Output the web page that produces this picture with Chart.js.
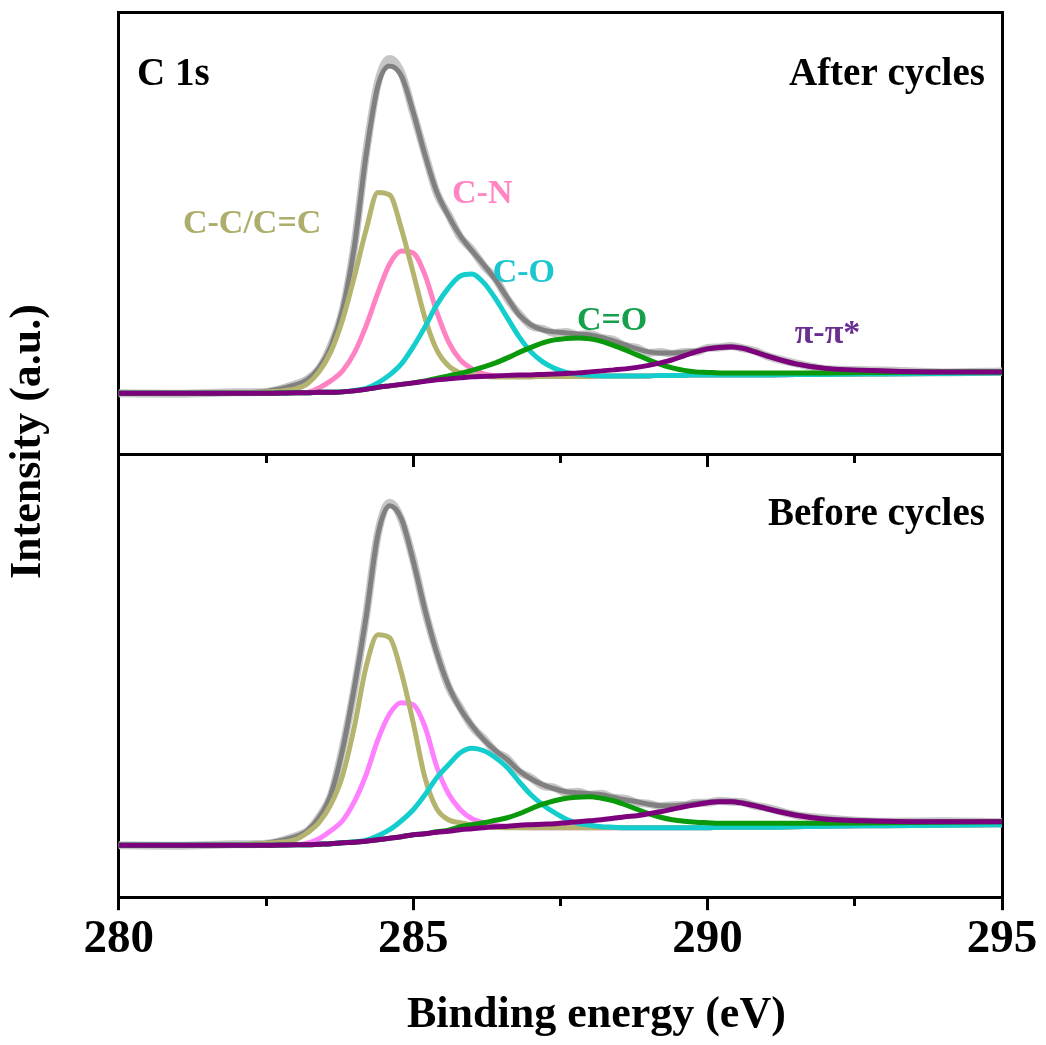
<!DOCTYPE html>
<html>
<head>
<meta charset="utf-8">
<title>C 1s XPS spectra before and after cycling</title>
<script src="https://cdn.jsdelivr.net/npm/chart.js@4.4.1/dist/chart.umd.min.js"></script>
<style>
  html, body { margin: 0; padding: 0; background: #ffffff; }
  canvas { display: block; }
</style>
</head>
<body>
<canvas id="xps" width="1046" height="1045"></canvas>
<script>
// Binding-energy grid (eV) shared by every curve
const energy = [280, 281, 282, 282.5,
  283.0, 283.2, 283.4, 283.6, 283.8, 284.0, 284.2, 284.4, 284.6, 284.8,
  285.0, 285.2, 285.4, 285.6, 285.8, 286.0, 286.2, 286.4, 286.6, 286.8,
  287.0, 287.2, 287.4, 287.6, 287.8, 288.0, 288.2, 288.4, 288.6, 288.8,
  289.0, 289.2, 289.4, 289.6, 289.8, 290.0, 290.2, 290.4, 290.6, 290.8,
  291.0, 291.5, 292, 293, 294, 295];

// ---- After cycles (intensity, a.u.) ----
const afterRaw = [61.5, 61, 62.5, 63, 70.5, 75.5, 86, 109, 144, 209,
  302, 372, 396, 382, 342, 301, 262, 240, 218, 205,
  189, 176, 156, 141, 129, 126, 122, 123, 120, 121,
  117, 115, 109, 107, 102, 103, 101, 103, 103, 107,
  107.5, 109, 106.5, 104, 99, 91.5, 86, 84.5, 82.5, 83.5];
const afterEnvelope = [61.5, 61.5, 62, 63.5, 70, 75, 87, 108, 145, 208,
  300, 369, 389, 379, 343, 300, 263, 239, 219, 204,
  190, 175, 157, 140, 130, 125, 123, 122, 121, 120,
  117.5, 114, 110, 106, 103, 102, 102, 102.5, 104, 106.5,
  108, 108.5, 107, 103.5, 99.5, 91, 86.5, 84, 83, 83];
const afterCC = [61.5, 61.5, 62, 63, 66, 71, 83, 103, 135, 178,
  225, 262.5, 260, 226, 182, 137, 105, 89, 82, 79.5,
  78.5, 78, 78, 78, 78, 78.5, 78.5, 78.5, 78.5, 78.5,
  79, 79, 79, 79, 79, 79.5, 79.5, 79.5, 80, 80,
  80, 80, 80, 80, 80, 80.5, 80.5, 81, 81.5, 82];
const afterCN = [61.5, 61.5, 61.5, 61.5, 62, 62.5, 67, 74, 84, 102,
  129, 162, 191, 204, 202, 180, 143, 113, 95, 86,
  81, 79, 78.5, 78.5, 78.5, 78.5, 78.5, 78.5, 78.5, 78.5,
  79, 79, 79, 79, 79, 79.5, 79.5, 79.5, 80, 80,
  80, 80, 80, 80, 80, 80.5, 80.5, 81, 81.5, 82];
const afterCO = [61.5, 61.5, 61.5, 61.5, 62, 62, 62.5, 62.5, 63, 64.5,
  66.5, 72, 80, 91, 108, 128, 150, 167, 179, 181,
  172, 156, 137, 118, 103, 93, 86.5, 82.5, 80.5, 79.5,
  79, 79, 79, 79, 79, 79.5, 79.5, 79.5, 80, 80,
  80, 80, 80, 80, 80, 80.5, 80.5, 81, 81.5, 82];
const afterCdO = [61.5, 61.5, 61.5, 61.5, 62, 62, 62.5, 62.5, 63, 64,
  65.5, 67.5, 69, 70.5, 72, 74, 76.5, 79, 81.5, 84.5,
  88, 92, 97, 102.5, 107.5, 112, 115, 116.5, 117, 116,
  113.5, 109.5, 105, 100, 95, 90.5, 87, 84.5, 83, 82.5,
  82, 82, 82, 82, 82, 82, 82, 82.5, 83, 83];
const afterPiPi = [61.5, 61.5, 61.5, 61.5, 62, 62, 62.5, 62.5, 63, 64,
  65.5, 67.5, 69, 70.5, 72, 73.5, 75, 76, 77, 78,
  78.5, 79, 79.5, 80, 80, 80.5, 81, 81.5, 82, 83,
  84, 85, 86, 87.5, 89.5, 92, 95, 99, 103, 106,
  107.5, 108, 106.5, 103, 99, 91, 86.5, 84, 83, 83];

// ---- Before cycles (intensity, a.u.) ----
const beforeRaw = [52.5, 52, 53.5, 54, 61.5, 66.5, 80.5, 102, 149, 209,
  282, 364, 395, 378, 338, 287, 246, 211, 190, 171,
  159, 146, 139, 126, 120, 112, 110, 105, 106, 103,
  104, 100, 99, 95, 94, 91.5, 92.5, 92.5, 95, 95,
  97, 96, 95.5, 92, 90, 82.5, 79.5, 76, 76.5, 75.5];
const beforeEnvelope = [52.5, 52.5, 53, 54.5, 61, 67, 80, 103, 148, 210,
  281, 363, 392, 379, 337, 288, 245, 212, 189, 172,
  158, 147, 138, 127, 119, 113, 109, 106, 105, 104,
  103, 100.5, 98, 96, 93.5, 92, 92, 93, 94.5, 95.5,
  96.5, 96.5, 95, 92.5, 89.5, 83, 79, 76.5, 76, 76];
const beforeCC = [52.5, 52.5, 53, 54.5, 58, 65, 75, 93, 122, 171,
  231, 263, 260, 225, 175, 120, 89, 78, 75, 73,
  71.5, 70.5, 70, 70, 70, 70, 70, 70, 70, 70,
  70, 70, 70, 70, 70, 70, 70, 70, 70, 70,
  70.5, 70.5, 70.5, 70.5, 70.5, 71, 71.5, 72, 72.5, 73];
const beforeCN = [52.5, 52.5, 52.5, 52.5, 53, 54.5, 59, 67, 77, 96,
  123, 158, 184, 195, 193, 171, 131, 104, 88, 79,
  75, 72.5, 71, 70.5, 70, 70, 70, 70, 70, 70,
  70, 70, 70, 70, 70, 70, 70, 70, 70, 70,
  70.5, 70.5, 70.5, 70.5, 70.5, 71, 71.5, 72, 72.5, 73];
const beforeCO = [52.5, 52.5, 52.5, 52.5, 53, 53, 53.5, 54, 55, 56,
  57.5, 62, 68, 77, 88, 103, 120, 133, 145, 149.5,
  147, 140, 130, 116, 103, 93, 85, 78.5, 74.5, 72.5,
  71, 70.5, 70, 70, 70, 70, 70, 70, 70, 70,
  70.5, 70.5, 70.5, 70.5, 70.5, 71, 71.5, 72, 72.5, 73];
const beforeCdO = [52.5, 52.5, 52.5, 52.5, 53, 53, 53.5, 54, 55, 55.5,
  56.5, 58, 59.5, 61, 63, 64, 66, 67.5, 71, 73,
  75, 77.5, 80, 84, 89, 93.5, 97, 99.5, 100.5, 101,
  99.5, 97, 93, 88.5, 84, 80.5, 78, 76.5, 75.5, 75,
  74.5, 74.5, 74.5, 74.5, 74.5, 74.5, 74.5, 75, 75.5, 76];
const beforePiPi = [52.5, 52.5, 52.5, 52.5, 53, 53, 53.5, 54, 55, 55.5,
  56.5, 58, 59.5, 61, 63, 64, 65.5, 66.5, 68, 69,
  70, 71, 71.5, 72.5, 73, 73.5, 74, 75, 76, 77,
  78, 79.5, 81, 82, 84, 86, 88.5, 91, 93, 95,
  96, 96, 94.5, 92, 89, 82.5, 78.5, 76.5, 76, 76];

// Energy-axis tick values
const majorTicks = [280, 285, 290, 295];

const SERIF = '"Liberation Serif", "Times New Roman", Times, serif';
const BLACK = '#000000';

const COLORS = {
  raw: '#c6c6c6',
  envelope: '#808080',
  cc: '#b4b46e',
  cnAfter: '#ff82c2',
  cnBefore: '#ff80ff',
  co: '#14cdcd',
  cdo: '#0a990a',
  pi: '#7d017d'
};

function series(values) {
  return energy.map((e, i) => ({ x: e, y: values[i] }));
}

function curve(label, values, axis, color, width) {
  return {
    label: label,
    data: series(values),
    yAxisID: axis,
    xAxisID: 'x',
    borderColor: color,
    backgroundColor: color,
    borderWidth: width,
    pointRadius: 0,
    fill: false,
    cubicInterpolationMode: 'monotone',
    borderJoinStyle: 'round',
    borderCapStyle: 'round'
  };
}

// First entries are painted last (on top)
const datasets = [
  curve('π-π* (after)', afterPiPi, 'yTop', COLORS.pi, 5),
  curve('C=O (after)', afterCdO, 'yTop', COLORS.cdo, 5),
  curve('C-O (after)', afterCO, 'yTop', COLORS.co, 5),
  curve('C-C/C=C (after)', afterCC, 'yTop', COLORS.cc, 5),
  curve('C-N (after)', afterCN, 'yTop', COLORS.cnAfter, 5),
  curve('Fit (after)', afterEnvelope, 'yTop', COLORS.envelope, 5),
  curve('Measured (after)', afterRaw, 'yTop', COLORS.raw, 8),
  curve('π-π* (before)', beforePiPi, 'yBot', COLORS.pi, 5),
  curve('C=O (before)', beforeCdO, 'yBot', COLORS.cdo, 5),
  curve('C-O (before)', beforeCO, 'yBot', COLORS.co, 5),
  curve('C-C/C=C (before)', beforeCC, 'yBot', COLORS.cc, 5),
  curve('C-N (before)', beforeCN, 'yBot', COLORS.cnBefore, 5),
  curve('Fit (before)', beforeEnvelope, 'yBot', COLORS.envelope, 5),
  curve('Measured (before)', beforeRaw, 'yBot', COLORS.raw, 8)
];

// Text placed in data coordinates (energy, intensity) of each panel
const annotations = [
  { text: 'C 1s', axis: 'yTop', energy: 280.31, intensity: 370, align: 'left', size: 39, color: BLACK },
  { text: 'After cycles', axis: 'yTop', energy: 294.71, intensity: 370, align: 'right', size: 39, color: BLACK },
  { text: 'Before cycles', axis: 'yBot', energy: 294.71, intensity: 373, align: 'right', size: 39, color: BLACK },
  { text: 'C-C/C=C', axis: 'yTop', energy: 281.09, intensity: 222, align: 'left', size: 34, color: '#adad6c' },
  { text: 'C-N', axis: 'yTop', energy: 285.66, intensity: 252, align: 'left', size: 34, color: '#ff85c3' },
  { text: 'C-O', axis: 'yTop', energy: 286.35, intensity: 173, align: 'left', size: 34, color: '#1cc6cf' },
  { text: 'C=O', axis: 'yTop', energy: 287.78, intensity: 125, align: 'left', size: 34, color: '#16a04c' },
  { text: 'π-π*', axis: 'yTop', energy: 291.48, intensity: 112, align: 'left', size: 34, color: '#6a2e91' }
];

const annotationPlugin = {
  id: 'panelText',
  afterDatasetsDraw(chart) {
    const { ctx, scales } = chart;
    ctx.save();
    ctx.textBaseline = 'alphabetic';
    for (const a of annotations) {
      ctx.font = 'bold ' + a.size + 'px ' + SERIF;
      ctx.fillStyle = a.color;
      ctx.textAlign = a.align;
      ctx.fillText(a.text, scales.x.getPixelForValue(a.energy), scales[a.axis].getPixelForValue(a.intensity));
    }
    ctx.restore();
  }
};

const noTicks = { display: false };
const frameBorder = { display: true, color: BLACK, width: 3 };
const hiddenGrid = { display: false, drawTicks: false, drawOnChartArea: false };

// x-title row: font line height plus its padding
const X_TITLE_FONT = { family: SERIF, size: 44, weight: 'bold' };
const X_TITLE_PAD = { top: 21, bottom: 2.6 };
const X_TITLE_ROW = X_TITLE_FONT.size * 1.2 + X_TITLE_PAD.top + X_TITLE_PAD.bottom;

new Chart(document.getElementById('xps'), {
  type: 'line',
  data: { datasets: datasets },
  plugins: [annotationPlugin],
  options: {
    responsive: false,
    animation: false,
    devicePixelRatio: 1,
    events: [],
    layout: { padding: { top: 12, right: 44, bottom: 0, left: 0 } },
    plugins: {
      legend: { display: false },
      tooltip: { enabled: false },
      title: { display: false }
    },
    scales: {
      // main energy axis with labels
      x: {
        type: 'linear', axis: 'x', position: 'bottom', weight: 0,
        min: 280, max: 295,
        afterBuildTicks: (scale) => { scale.ticks = majorTicks.map(v => ({ value: v })); },
        ticks: {
          color: BLACK, padding: 1, maxRotation: 0, autoSkip: false,
          font: { family: SERIF, size: 47, weight: 'bold' }
        },
        grid: { display: true, drawOnChartArea: false, drawTicks: true, tickLength: 12.5, tickWidth: 3, tickColor: BLACK, lineWidth: 3, color: BLACK },
        border: frameBorder
      },
      // minor ticks along the bottom edge
      xMinor: {
        type: 'linear', axis: 'x', position: { yBot: 0 },
        min: 280, max: 295,
        ticks: { display: false, stepSize: 2.5 },
        grid: { display: true, drawOnChartArea: false, drawTicks: true, tickLength: 8, tickWidth: 3, tickColor: BLACK },
        border: { display: false }
      },
      // divider between the two panels, with its ticks
      xMid: {
        type: 'linear', axis: 'x', position: { yBot: 443 },
        min: 280, max: 295,
        afterBuildTicks: (scale) => { scale.ticks = majorTicks.map(v => ({ value: v })); },
        ticks: { display: false },
        grid: { display: true, drawOnChartArea: false, drawTicks: true, tickLength: 11, tickWidth: 3, tickColor: BLACK },
        border: frameBorder
      },
      xMidMinor: {
        type: 'linear', axis: 'x', position: { yBot: 443 },
        min: 280, max: 295,
        ticks: { display: false, stepSize: 2.5 },
        grid: { display: true, drawOnChartArea: false, drawTicks: true, tickLength: 8, tickWidth: 3, tickColor: BLACK },
        border: { display: false }
      },
      // top frame line
      xTop: {
        type: 'linear', axis: 'x', position: 'top',
        min: 280, max: 295,
        ticks: noTicks, grid: hiddenGrid, border: frameBorder
      },
      // axis title row under the tick labels (blank cell, then the title)
      xSpacer: {
        type: 'linear', axis: 'x', position: 'bottom', weight: 1,
        stack: 'xtitle', stackWeight: 0.0815,
        ticks: noTicks, grid: hiddenGrid, border: { display: false },
        afterFit: (scale) => { scale.height = X_TITLE_ROW; }
      },
      xTitle: {
        type: 'linear', axis: 'x', position: 'bottom', weight: 2,
        stack: 'xtitle', stackWeight: 0.9185,
        ticks: noTicks, grid: hiddenGrid, border: { display: false },
        title: {
          display: true, text: 'Binding energy (eV)', color: BLACK,
          font: X_TITLE_FONT, padding: X_TITLE_PAD
        }
      },
      // y-axis title column
      yTitle: {
        type: 'linear', axis: 'y', position: 'left', weight: 10,
        stack: 'ytitle', stackWeight: 0.97,
        ticks: noTicks, grid: hiddenGrid, border: { display: false },
        title: {
          display: true, text: 'Intensity (a.u.)', color: BLACK,
          font: { family: SERIF, size: 44, weight: 'bold' },
          padding: { top: 2, bottom: 64 }
        }
      },
      ySpacer: {
        type: 'linear', axis: 'y', position: 'left', weight: 9,
        stack: 'ytitle', stackWeight: 0.03, display: false
      },
      // stacked intensity axes: "After cycles" on top, "Before cycles" below
      yTop: {
        type: 'linear', axis: 'y', position: 'left', weight: 2,
        stack: 'panels', stackWeight: 1,
        min: 0, max: 443,
        ticks: noTicks, grid: hiddenGrid, border: frameBorder
      },
      yBot: {
        type: 'linear', axis: 'y', position: 'left', weight: 1,
        stack: 'panels', stackWeight: 1,
        min: 0, max: 443,
        ticks: noTicks, grid: hiddenGrid, border: frameBorder
      },
      // right frame line
      yRight: {
        type: 'linear', axis: 'y', position: 'right',
        min: 0, max: 1,
        ticks: noTicks, grid: hiddenGrid, border: frameBorder
      }
    }
  }
});
</script>
</body>
</html>
